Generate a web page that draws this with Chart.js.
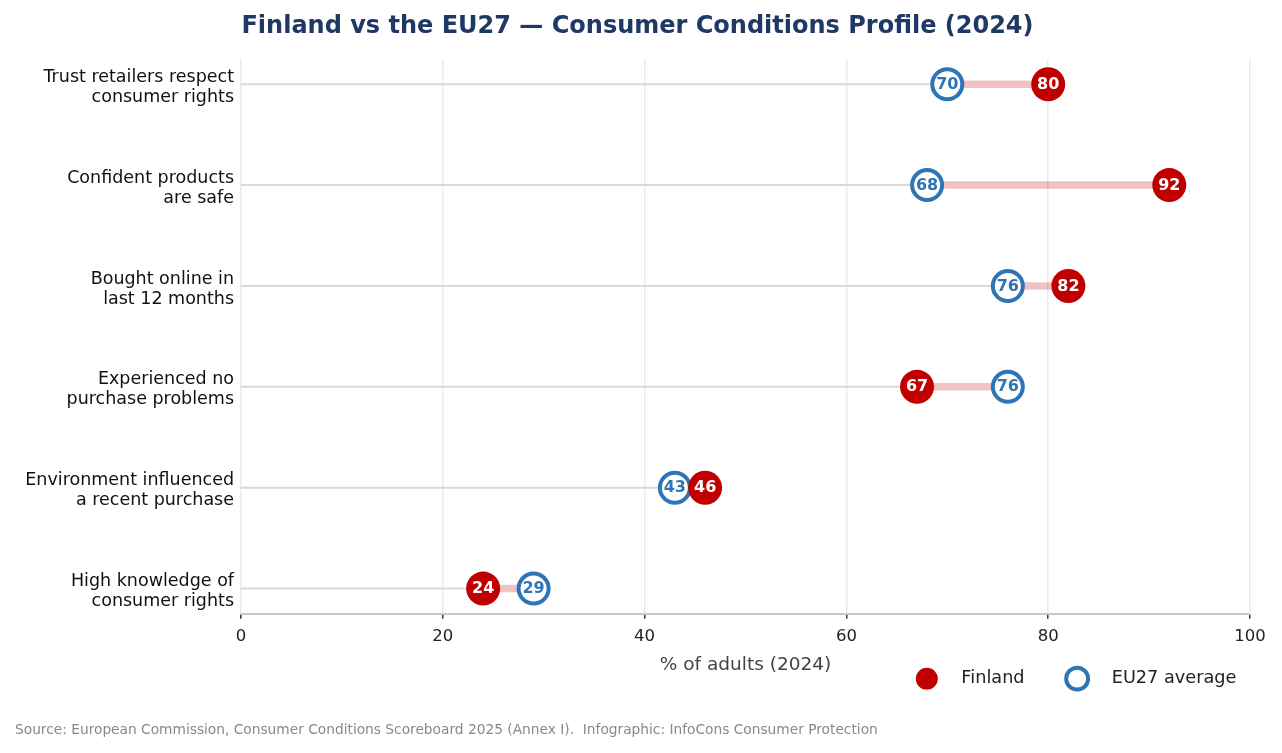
<!DOCTYPE html>
<html><head><meta charset="utf-8">
<script src="https://cdn.jsdelivr.net/npm/chart.js@4.4.1/dist/chart.umd.min.js"></script>
<style>html,body{margin:0;padding:0;background:#fff}#wrap{width:1282px;height:753px;position:relative}</style>
</head><body><div id="wrap"><canvas id="c"></canvas></div>
<script>
const categories = [
  ["Trust retailers respect", "consumer rights"],
  ["Confident products", "are safe"],
  ["Bought online in", "last 12 months"],
  ["Experienced no", "purchase problems"],
  ["Environment influenced", "a recent purchase"],
  ["High knowledge of", "consumer rights"]
];
const finland = [80, 92, 82, 67, 46, 24];
const eu27 = [70, 68, 76, 76, 43, 29];
const xTickValues = [0, 20, 40, 60, 80, 100];
const seriesNames = ["Finland", "EU27 average"];
const titleText = "Finland vs the EU27 \u2014 Consumer Conditions Profile (2024)";
const xTitle = "% of adults (2024)";
const sourceText = "Source: European Commission, Consumer Conditions Scoreboard 2025 (Annex I).  Infographic: InfoCons Consumer Protection";

const RED = "#c00000", BLUE = "#2e75b6", FONT = "'DejaVu Sans', sans-serif";

const connectors = {
  id: "connectors",
  beforeDatasetsDraw(chart) {
    const {ctx, scales: {x, y}} = chart;
    ctx.save();
    ctx.lineCap = "butt";
    categories.forEach((c, i) => {
      const py = y.getPixelForValue(i);
      const lo = Math.min(finland[i], eu27[i]), hi = Math.max(finland[i], eu27[i]);
      ctx.strokeStyle = "#d9d9d9"; ctx.lineWidth = 2;
      ctx.beginPath(); ctx.moveTo(x.getPixelForValue(0), py); ctx.lineTo(x.getPixelForValue(lo), py); ctx.stroke();
      ctx.strokeStyle = "rgba(192,0,0,0.24)"; ctx.lineWidth = 7.5;
      ctx.beginPath(); ctx.moveTo(x.getPixelForValue(lo), py); ctx.lineTo(x.getPixelForValue(hi), py); ctx.stroke();
    });
    ctx.restore();
  }
};

const valueLabels = {
  id: "valueLabels",
  afterDatasetsDraw(chart) {
    const ctx = chart.ctx;
    ctx.save();
    ctx.textAlign = "center"; ctx.textBaseline = "middle";
    ctx.font = "bold 16px " + FONT;
    [[1, eu27, BLUE], [0, finland, "#ffffff"]].forEach(([di, arr, col]) => {
      const meta = chart.getDatasetMeta(di);
      meta.data.forEach((pt, i) => {
        ctx.fillStyle = col;
        ctx.fillText(String(arr[i]), pt.x, pt.y + 0.5);
      });
    });
    ctx.restore();
  }
};

const boxShift = {
  id: "boxShift",
  afterLayout(chart) {
    if (chart.legend) { chart.legend.top -= 16; chart.legend.bottom -= 16; chart.legend.left += 2; chart.legend.right += 2; }
    if (chart.titleBlock) { chart.titleBlock.left += 5; chart.titleBlock.right += 5; }
  }
};

new Chart(document.getElementById("c"), {
  type: "scatter",
  data: {
    datasets: [
      { label: "   " + seriesNames[0] + "      ", data: finland.map((v, i) => ({x: v, y: i})),
        backgroundColor: RED, borderColor: RED, borderWidth: 0, pointRadius: 17, pointHoverRadius: 17 },
      { label: "   " + seriesNames[1] + " ", data: eu27.map((v, i) => ({x: v, y: i})),
        backgroundColor: "#ffffff", borderColor: BLUE, borderWidth: 4, pointRadius: 15, pointHoverRadius: 15 }
    ]
  },
  options: {
    responsive: true, maintainAspectRatio: false, animation: false,
    layout: { padding: { left: 15, right: 32, top: 0, bottom: 0 } },
    scales: {
      x: {
        type: "linear", min: 0, max: 100,
        afterBuildTicks: s => { s.ticks = xTickValues.map(v => ({value: v})); },
        grid: { color: "#ebebeb", lineWidth: 1.5, tickColor: "#333", tickLength: 5, drawTicks: true },
        border: { display: true, color: "#c8c8c8", width: 2 },
        ticks: { color: "#222", font: { family: FONT, size: 16.5 }, padding: 8 },
        title: { display: true, text: xTitle, color: "#444", font: { family: FONT, size: 18.5 }, padding: { top: -1, bottom: 0 } }
      },
      y: {
        type: "linear", min: -0.25, max: 5.25, reverse: true,
        afterBuildTicks: s => { s.ticks = categories.map((c, i) => ({value: i})); },
        afterFit: s => { s.width = 226; },
        grid: { display: false, drawTicks: false },
        border: { display: false },
        ticks: { color: "#111", font: { family: FONT, size: 17.5, lineHeight: "20px" }, padding: 7, labelOffset: 3,
          callback: v => categories[v] }
      }
    },
    plugins: {
      title: { display: true, text: titleText, color: "#1f3864",
        font: { family: FONT, size: 24, weight: "bold" }, padding: { top: 12.5, bottom: 17.7 } },
      subtitle: { display: true, position: "bottom", align: "start", text: sourceText, color: "#888",
        font: { family: FONT, size: 13.75 }, padding: { top: 9, bottom: 14 } },
      legend: { display: true, position: "bottom", align: "end",
        labels: { usePointStyle: true, pointStyle: "circle", color: "#222", boxHeight: 15.5,
          font: { family: FONT, size: 17.7 }, padding: 10 } },
      tooltip: { enabled: false }
    }
  },
  plugins: [connectors, valueLabels, boxShift]
});
</script></body></html>
